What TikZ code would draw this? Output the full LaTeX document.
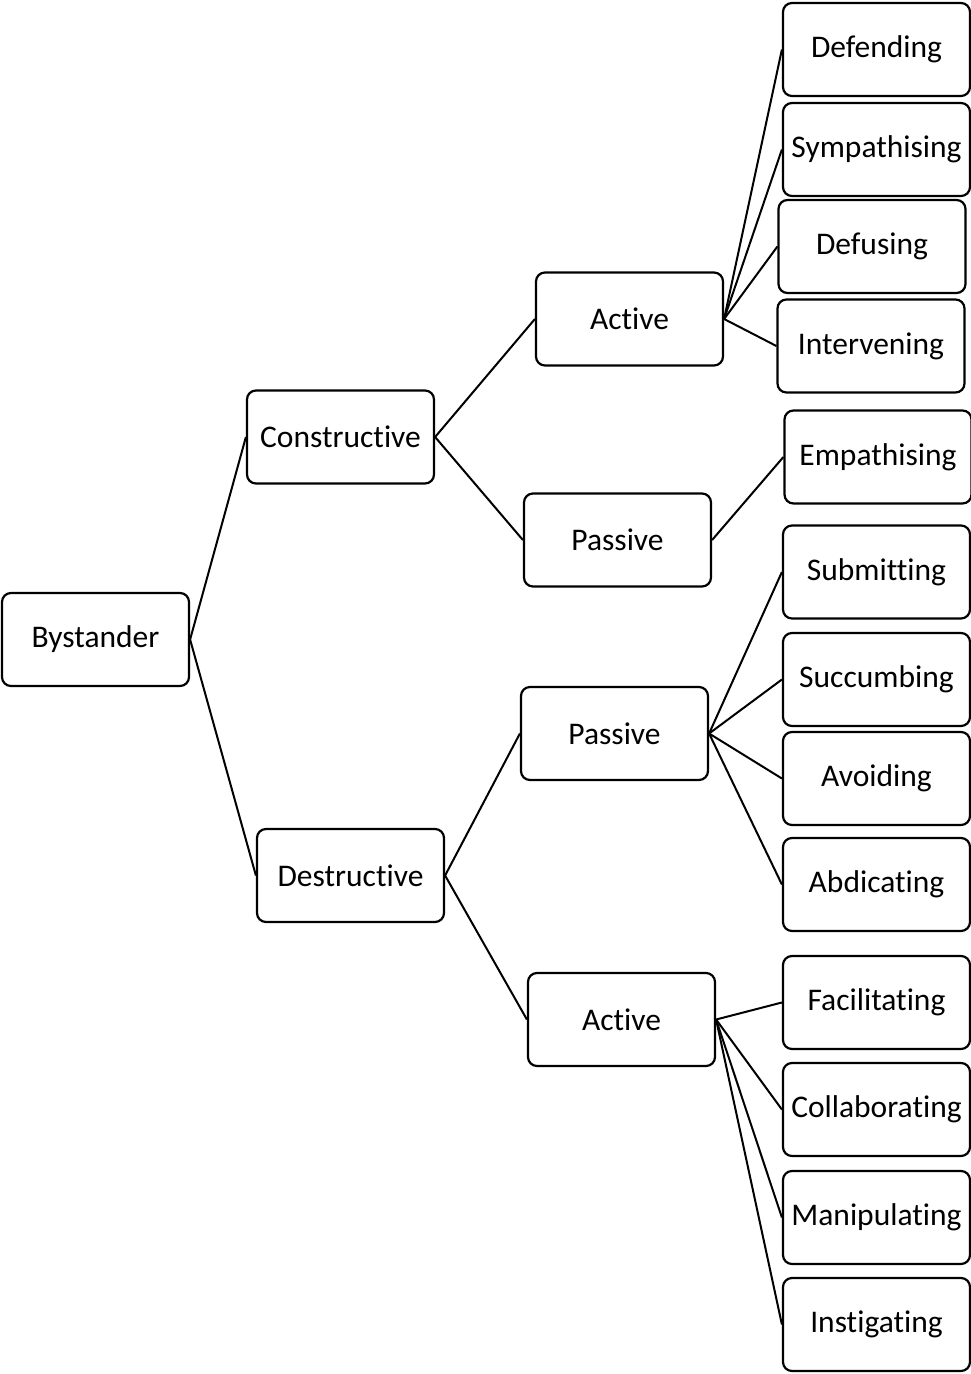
\documentclass[tikz,border=0pt]{standalone}
\usepackage{fontspec}
\setmainfont{Carlito}[Ligatures={NoCommon},RawFeature={-liga;-clig}]
\begin{document}
\begin{tikzpicture}[x=1pt,y=-1pt,
  box/.style={draw,line width=2.2pt,rounded corners=9pt,minimum width=187pt,minimum height=93pt,inner sep=0pt,font=\fontsize{31.5}{37}\selectfont},
  link/.style={line width=2pt}]
\useasboundingbox (0,0) rectangle (971,1374);
\node[box] (by) at (95.5,639.5) {Bystander};
\node[box] (con) at (340.5,437) {Constructive};
\node[box] (des) at (350.5,875.5) {Destructive};
\node[box] (ca) at (629.5,319) {Active};
\node[box] (cp) at (617.5,540) {Passive};
\node[box] (dp) at (614.5,733.5) {Passive};
\node[box] (da) at (621.5,1019.5) {Active};
\node[box] (def) at (876.5,49.5) {Defending};
\node[box] (sym) at (876.5,149.5) {Sympathising};
\node[box] (dfu) at (872,246.5) {Defusing};
\node[box] (int) at (871,346) {Intervening};
\node[box] (emp) at (878,457) {Empathising};
\node[box] (sub) at (876.5,572) {Submitting};
\node[box] (suc) at (876.5,679.5) {Succumbing};
\node[box] (avo) at (876.5,778.5) {Avoiding};
\node[box] (abd) at (876.5,884.5) {Abdicating};
\node[box] (fac) at (876.5,1002.5) {Facilitating};
\node[box] (col) at (876.5,1109.5) {Collaborating};
\node[box] (man) at (876.5,1217.5) {Manipulating};
\node[box] (ins) at (876.5,1324.5) {Instigating};
\foreach \a/\b in {by/con,by/des,con/ca,con/cp,des/dp,des/da,
  ca/def,ca/sym,ca/dfu,ca/int,cp/emp,
  dp/sub,dp/suc,dp/avo,dp/abd,
  da/fac,da/col,da/man,da/ins}
  \draw[link] (\a.east) -- (\b.west);
\end{tikzpicture}
\end{document}
